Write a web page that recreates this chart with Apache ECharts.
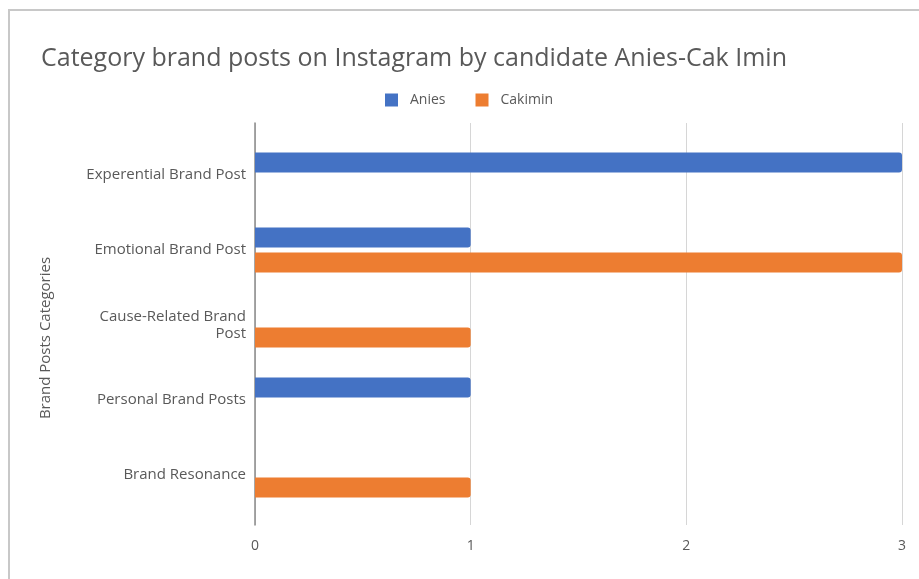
<!DOCTYPE html>
<html>
<head>
<meta charset="utf-8">
<script src="https://cdn.jsdelivr.net/npm/echarts@6/dist/echarts.min.js"></script>
<style>html,body{margin:0;padding:0;background:#fff;}#c{width:919px;height:579px;}</style>
</head>
<body>
<div id="c"></div>
<script>
const categories = ["Experential Brand Post", "Emotional Brand Post", "Cause-Related Brand\nPost", "Personal Brand Posts", "Brand Resonance"];
const aniesValues = [3, 1, 0, 1, 0];
const cakiminValues = [0, 3, 1, 0, 1];
const xTicks = [0, 1, 2, 3];

const FONT = "Open Sans";
const TXT = "#595959";
const chart = echarts.init(document.getElementById('c'));
chart.setOption({
  animation: false,
  backgroundColor: "#fff",
  title: {
    text: "Category brand posts on Instagram by candidate Anies-Cak Imin",
    left: 36, top: 41,
    textStyle: {fontFamily: FONT, fontSize: 25, fontWeight: "normal", color: TXT}
  },
  legend: {
    data: ["Anies", "Cakimin"],
    left: 380, top: 88,
    itemWidth: 13, itemHeight: 13, itemGap: 30,
    icon: "rect",
    textStyle: {fontFamily: FONT, fontSize: 14, color: TXT, padding: [0, 0, 0, 7]}
  },
  graphic: [{
    type: "polyline",
    shape: {points: [[9, 600], [9, 10], [930, 10]]},
    style: {stroke: "#c8c8c8", lineWidth: 2, fill: null},
    silent: true
  }, {
    type: "text",
    x: 46, y: 338, rotation: Math.PI / 2,
    style: {text: "Brand Posts Categories", fontFamily: FONT, fontSize: 15, fill: TXT,
            align: "center", verticalAlign: "middle"},
    silent: true
  }],
  grid: [
    {left: 255, right: 17, top: 123, bottom: 54},
    {left: 255, right: 17, top: 137.5, bottom: 66.5}
  ],
  xAxis: [
    {gridIndex: 0, type: "value", min: xTicks[0], max: xTicks[xTicks.length - 1], interval: 1,
     axisLine: {show: false}, axisTick: {show: false},
     splitLine: {show: true, lineStyle: {color: "#d6d6d6", width: 1}},
     axisLabel: {fontFamily: FONT, fontSize: 14, color: TXT, margin: 14}},
    {gridIndex: 1, type: "value", min: xTicks[0], max: xTicks[xTicks.length - 1], interval: 1, show: false}
  ],
  yAxis: [
    {gridIndex: 0, type: "value", min: 0, max: 1,
     axisLine: {show: true, onZero: false, lineStyle: {color: "#8a8a8a", width: 1.5}},
     axisTick: {show: false}, axisLabel: {show: false}, splitLine: {show: false}},
    {gridIndex: 1, type: "category", data: categories, inverse: true,
     axisLine: {show: false}, axisTick: {show: false}, splitLine: {show: false},
     axisLabel: {fontFamily: FONT, fontSize: 15, color: TXT, margin: 9, lineHeight: 17,
                 align: "right", padding: [4, 0, 0, 0]}}
  ],
  series: [
    {name: "Anies", type: "bar", xAxisIndex: 1, yAxisIndex: 1, data: aniesValues,
     barWidth: 20, barGap: "25%", itemStyle: {color: "#4472c4", borderRadius: [0, 3, 3, 0]}},
    {name: "Cakimin", type: "bar", xAxisIndex: 1, yAxisIndex: 1, data: cakiminValues,
     barWidth: 20, barGap: "25%", itemStyle: {color: "#ed7d31", borderRadius: [0, 3, 3, 0]}}
  ]
});
</script>
</body>
</html>
